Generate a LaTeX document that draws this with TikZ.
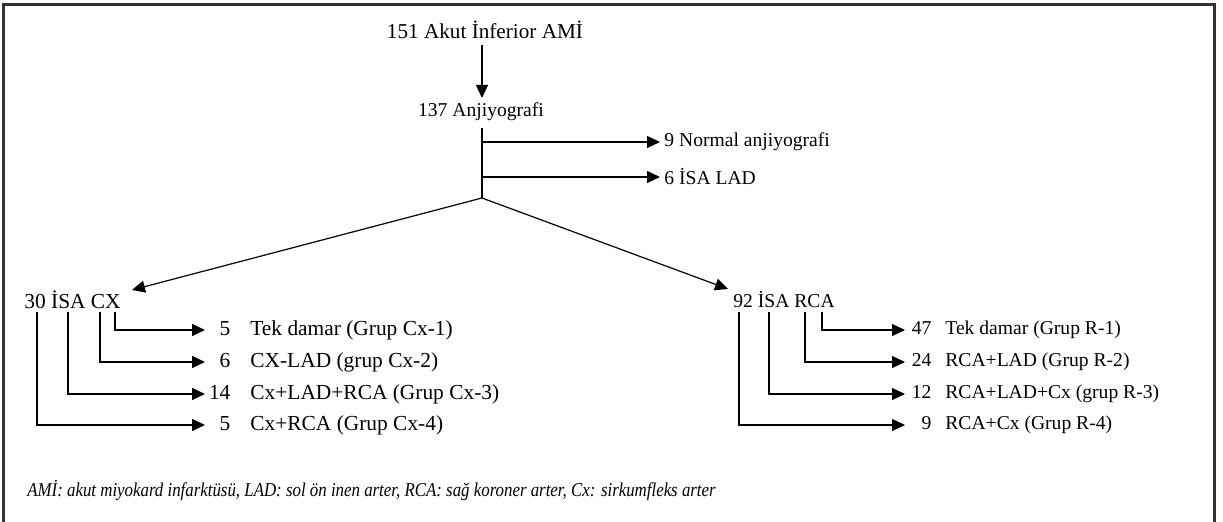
\documentclass[tikz,border=0pt]{standalone}
\usepackage{fontspec}
\setmainfont{Liberation Serif}
\usetikzlibrary{arrows.meta}
\tikzset{
  lbl/.style={inner sep=0pt, anchor=west, font=\fontsize{9.8}{12}\selectfont},
  lblbig/.style={lbl, font=\fontsize{10.7}{12}\selectfont},
  ctr/.style={inner sep=0pt, anchor=center, font=\fontsize{9.8}{12}\selectfont},
  conn/.style={line width=0.6pt, draw=black},
  arr/.style={conn, -{Triangle[length=6.5pt,width=6pt]}},
  frame/.style={line width=1.5pt, draw=black!80},
}
\newcommand{\rowL}[2]{\makebox[11.5pt][r]{#1}\hspace{10pt}#2}
\newcommand{\rowR}[2]{\makebox[12pt][r]{#1}\hspace{7pt}#2}
\begin{document}
\begin{tikzpicture}[x=0.5pt,y=-0.5pt]
\useasboundingbox (0,0) rectangle (1223,522);
\fill[white] (0,0) rectangle (1223,522);
\draw[frame] (3,522) -- (3,5) -- (1214,5) -- (1214,522);

\node[ctr, font=\fontsize{10.6}{12}\selectfont] (title) at (485,30) {151 Akut İnferior AMİ};
\node[ctr] (angio) at (481,112) {137 Anjiyografi};
\node[lbl] (normal) at (664,142) {9 Normal anjiyografi};
\node[lbl] (lad) at (664,177) {6 İSA LAD};
\node[lblbig] (cx) at (24,300) {30 İSA CX};
\node[lbl] (rca) at (733,300) {92 İSA RCA};

\node[lblbig] (cx1) at (207,330) {\rowL{5}{Tek damar (Grup Cx-1)}};
\node[lblbig] (cx2) at (207,362) {\rowL{6}{CX-LAD (grup Cx-2)}};
\node[lblbig] (cx3) at (207,394) {\rowL{14}{Cx+LAD+RCA (Grup Cx-3)}};
\node[lblbig] (cx4) at (207,425) {\rowL{5}{Cx+RCA (Grup Cx-4)}};

\node[lbl] (r1) at (907,330) {\rowR{47}{Tek damar (Grup R-1)}};
\node[lbl] (r2) at (907,362) {\rowR{24}{RCA+LAD (Grup R-2)}};
\node[lbl] (r3) at (907,394) {\rowR{12}{RCA+LAD+Cx (grup R-3)}};
\node[lbl] (r4) at (907,425) {\rowR{9}{RCA+Cx (Grup R-4)}};

\node[lbl, font=\fontsize{9.8}{12}\selectfont\itshape, xscale=0.86] (cap) at (27,491)
  {AMİ: akut miyokard infarktüsü, LAD: sol ön inen arter, RCA: sağ koroner arter, Cx: sirkumfleks arter};

% main flow
\coordinate (t0) at (482,45);
\coordinate (t1) at (482,98);
\draw[arr] (t0) -- (t1);
\coordinate (a0) at (482,128);
\coordinate (j) at (482,198);
\draw[conn] (a0) -- (j);
\draw[arr] (a0 |- normal) -- ([xshift=-2pt]normal.west);
\draw[arr] (a0 |- lad) -- ([xshift=-2pt]lad.west);
\coordinate (cxtip) at (132,290);
\coordinate (rcatip) at (728,289);
\draw[arr] (j) -- (cxtip);
\draw[arr] (j) -- (rcatip);

% CX sub-branches
\coordinate (cxb) at (0,312);
\draw[arr] (cxb -| 115,0) |- ([xshift=-1pt]cx1.west);
\draw[arr] (cxb -| 100,0) |- ([xshift=-1pt]cx2.west);
\draw[arr] (cxb -| 68,0) |- ([xshift=-1pt]cx3.west);
\draw[arr] (cxb -| 37,0) |- ([xshift=-1pt]cx4.west);

% RCA sub-branches
\draw[arr] (cxb -| 822,0) |- ([xshift=-1pt]r1.west);
\draw[arr] (cxb -| 805,0) |- ([xshift=-1pt]r2.west);
\draw[arr] (cxb -| 769,0) |- ([xshift=-1pt]r3.west);
\draw[arr] (cxb -| 739,0) |- ([xshift=-1pt]r4.west);
\end{tikzpicture}
\end{document}
